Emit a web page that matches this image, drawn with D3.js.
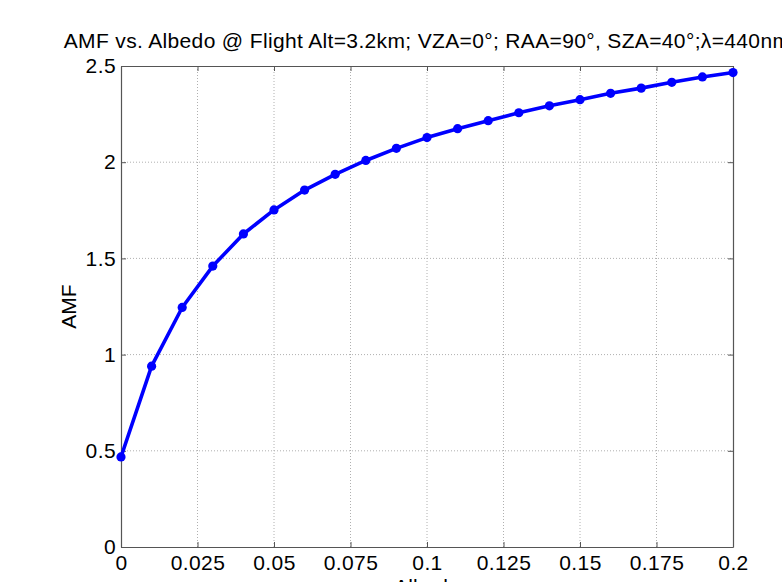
<!DOCTYPE html>
<html>
<head>
<meta charset="utf-8">
<script src="https://cdn.jsdelivr.net/npm/d3@7"></script>
<style>
  body { margin: 0; background: #fff; overflow: hidden; }
  text { font-family: "Liberation Sans", Arial, sans-serif; fill: #000; }
</style>
</head>
<body>
<svg width="782" height="582"></svg>
<script>
// Data =======================================================================

const albedo = [0, 0.01, 0.02, 0.03, 0.04, 0.05, 0.06, 0.07, 0.08, 0.09, 0.1,
  0.11, 0.12, 0.13, 0.14, 0.15, 0.16, 0.17, 0.18, 0.19, 0.2];
const amf = [0.468, 0.94, 1.245, 1.46, 1.627, 1.752, 1.855, 1.937, 2.009, 2.072, 2.128,
  2.174, 2.216, 2.257, 2.293, 2.325, 2.358, 2.385, 2.415, 2.443, 2.466];
const xTicks = [0, 0.025, 0.05, 0.075, 0.1, 0.125, 0.15, 0.175, 0.2];
const xTickLabels = ["0", "0.025", "0.05", "0.075", "0.1", "0.125", "0.15", "0.175", "0.2"];
const yTicks = [0, 0.5, 1, 1.5, 2, 2.5];
const yTickLabels = ["0", "0.5", "1", "1.5", "2", "2.5"];

// Layout =====================================================================

const margin = { left: 121, right: 49, top: 66, bottom: 35 };
const svg = d3.select("svg");
const W = 782, H = 582;
const plotW = W - margin.left - margin.right,
  plotH = H - margin.top - margin.bottom;

const x = d3.scaleLinear().domain([0, 0.2]).range([0, plotW]);
const y = d3.scaleLinear().domain([0, 2.5]).range([plotH, 0]);

const g = svg.append("g")
  .attr("transform", `translate(${margin.left},${margin.top})`);

// Grid =======================================================================

g.append("g")
  .selectAll("line")
  .data(xTicks.slice(1, -1))
  .enter()
  .append("line")
  .attr("x1", d => x(d)).attr("x2", d => x(d))
  .attr("y1", 0).attr("y2", plotH)
  .attr("stroke", "#b0b0b0")
  .attr("stroke-width", 1)
  .attr("stroke-dasharray", "1,2");

g.append("g")
  .selectAll("line")
  .data(yTicks.slice(1, -1))
  .enter()
  .append("line")
  .attr("y1", d => y(d)).attr("y2", d => y(d))
  .attr("x1", 0).attr("x2", plotW)
  .attr("stroke", "#b0b0b0")
  .attr("stroke-width", 1)
  .attr("stroke-dasharray", "1,2");

// Axes (MATLAB style, inward ticks, box) =====================================

const axisColor = "#555";

const xAxis = d3.axisBottom(x).tickValues(xTicks)
  .tickFormat((d, i) => xTickLabels[i]).tickSizeInner(-5).tickSizeOuter(0).tickPadding(8);
const yAxis = d3.axisLeft(y).tickValues(yTicks)
  .tickFormat((d, i) => yTickLabels[i]).tickSizeInner(-5).tickSizeOuter(0).tickPadding(5);

const gx = g.append("g").attr("transform", `translate(0,${plotH})`).call(xAxis);
const gy = g.append("g").call(yAxis);
const gxTop = g.append("g").call(d3.axisTop(x).tickValues(xTicks).tickFormat("")
  .tickSizeInner(-5).tickSizeOuter(0));
const gyRight = g.append("g").attr("transform", `translate(${plotW},0)`)
  .call(d3.axisRight(y).tickValues(yTicks).tickFormat("").tickSizeInner(-5).tickSizeOuter(0));

[gx, gy, gxTop, gyRight].forEach(a => {
  a.select(".domain").attr("stroke", axisColor).attr("stroke-width", 1.2);
  a.selectAll(".tick line").attr("stroke", axisColor);
  a.selectAll(".tick text")
    .style("font-family", '"Liberation Sans", Arial, sans-serif')
    .style("font-size", "21px")
    .style("letter-spacing", "0.4px")
    .attr("fill", "#000");
});

// Line & markers =============================================================

const pts = albedo.map((a, i) => [a, amf[i]]);

g.append("path")
  .datum(pts)
  .attr("fill", "none")
  .attr("stroke", "#0000ff")
  .attr("stroke-width", 3.6)
  .attr("stroke-linejoin", "round")
  .attr("d", d3.line().x(d => x(d[0])).y(d => y(d[1])));

g.selectAll("circle")
  .data(pts)
  .enter()
  .append("circle")
  .attr("cx", d => x(d[0]))
  .attr("cy", d => y(d[1]))
  .attr("r", 4.6)
  .attr("fill", "#0000ff");

// Labels =====================================================================

svg.append("text")
  .attr("x", margin.left + plotW / 2)
  .attr("y", 48)
  .attr("text-anchor", "middle")
  .style("font-size", "21px")
  .style("letter-spacing", "0.35px")
  .text("AMF vs. Albedo @ Flight Alt=3.2km; VZA=0°; RAA=90°, SZA=40°;λ=440nm");

svg.append("text")
  .attr("transform", `translate(76,${margin.top + plotH / 2}) rotate(-90)`)
  .attr("text-anchor", "middle")
  .style("font-size", "21px")
  .text("AMF");

svg.append("text")
  .attr("x", margin.left + plotW / 2)
  .attr("y", 594)
  .attr("text-anchor", "middle")
  .style("font-size", "21px")
  .text("Albedo");
</script>
</body>
</html>
